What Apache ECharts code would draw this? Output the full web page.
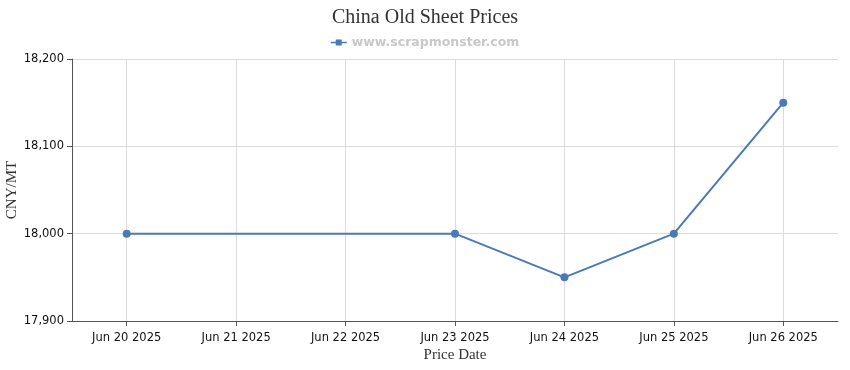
<!DOCTYPE html>
<html>
<head>
<meta charset="utf-8">
<script src="https://cdn.jsdelivr.net/npm/echarts@6/dist/echarts.min.js"></script>
<style>html,body{margin:0;padding:0;background:#fff}#c{width:850px;height:370px}</style>
</head>
<body>
<div id="c"></div>
<script>
const categories = ['Jun 20 2025','Jun 21 2025','Jun 22 2025','Jun 23 2025','Jun 24 2025','Jun 25 2025','Jun 26 2025'];
const prices = [18000, null, null, 18000, 17950, 18000, 18150];
const yTicks = {min: 17900, max: 18200, interval: 100};

const chart = echarts.init(document.getElementById('c'));
chart.setOption({
  animation: false,
  backgroundColor: '#fff',
  title: {
    text: 'China Old Sheet Prices',
    left: 'center', top: 3,
    textStyle: {fontFamily: 'Liberation Serif', fontWeight: 'normal', fontSize: 20, color: '#333'}
  },
  legend: {
    top: 31, left: 'center',
    itemWidth: 16, itemHeight: 8, itemGap: 6,
    data: [{name: 'www.scrapmonster.com', icon: 'path://M0,3.2 L16,3.2 L16,4.8 L0,4.8Z M5,1 L11,1 L11,7 L5,7Z'}],
    textStyle: {fontFamily: 'DejaVu Sans', fontWeight: 'bold', fontSize: 12.5, color: '#c8c8c8'}
  },
  grid: {left: 72, right: 12, top: 59, bottom: 49, containLabel: false, outerBoundsMode: 'none'},
  xAxis: {
    type: 'category',
    data: categories,
    boundaryGap: true,
    name: 'Price Date',
    nameLocation: 'middle',
    nameGap: 27,
    nameMoveOverlap: false,
    nameTextStyle: {fontFamily: 'Liberation Serif', fontSize: 15, color: '#333'},
    axisLine: {show: true, lineStyle: {color: '#555'}},
    axisTick: {show: true, alignWithLabel: true, length: 5, lineStyle: {color: '#555'}},
    axisLabel: {fontFamily: 'DejaVu Sans', fontSize: 11.5, color: '#111', margin: 11},
    splitLine: {show: false}
  },
  yAxis: {
    type: 'value',
    min: yTicks.min, max: yTicks.max, interval: yTicks.interval,
    name: 'CNY/MT',
    nameLocation: 'middle',
    nameGap: 52,
    nameMoveOverlap: false,
    nameRotate: 90,
    nameTextStyle: {fontFamily: 'Liberation Serif', fontSize: 15, color: '#333'},
    axisLine: {show: true, lineStyle: {color: '#555'}},
    axisTick: {show: true, length: 5, lineStyle: {color: '#555'}},
    axisLabel: {fontFamily: 'DejaVu Sans', fontSize: 11.5, color: '#111', margin: 8,
      formatter: v => v.toLocaleString('en-US')},
    splitLine: {show: true, lineStyle: {color: '#dcdcdc'}}
  },
  series: [{
    name: 'www.scrapmonster.com',
    type: 'line',
    data: prices,
    connectNulls: true,
    symbol: 'circle',
    symbolSize: 8,
    itemStyle: {color: '#4a7ab5'},
    lineStyle: {color: '#4a7ab5', width: 2},
    markLine: {
      silent: true,
      symbol: 'none',
      label: {show: false},
      lineStyle: {color: '#dcdcdc', type: 'solid', width: 1},
      z: 0,
      data: categories.map(c => ({xAxis: c}))
    }
  }]
});
</script>
</body>
</html>
